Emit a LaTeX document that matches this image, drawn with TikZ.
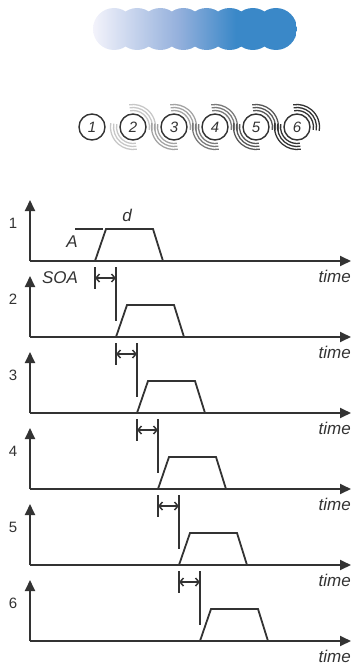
\documentclass[tikz,border=0pt]{standalone}
\usepackage{fontspec}
\setmainfont{Liberation Sans}
\usetikzlibrary{arrows.meta}
\definecolor{ink}{HTML}{333333}
\definecolor{bluel}{HTML}{F3F3FB}
\definecolor{bluem}{HTML}{94B0DC}
\definecolor{blued}{HTML}{3A88C8}
\pgfdeclarehorizontalshading{barshade}{100bp}{color(0bp)=(bluel); color(25bp)=(bluel); color(46bp)=(bluem); color(60bp)=(blued); color(100bp)=(blued)}
\begin{document}
\begin{tikzpicture}[x=1pt,y=-1pt,
  axis/.style={ink, line width=1.8pt, -{Triangle[length=11pt,width=10pt]}},
  pulse/.style={ink, line width=1.8pt, line join=miter},
  bar/.style={ink, line width=1.6pt},
  soa/.style={ink, line width=1.5pt, {Straight Barb[length=3.5pt,width=8pt]}-{Straight Barb[length=3.5pt,width=8pt]}},
  lbl/.style={font=\fontsize{15}{15}\selectfont, text=ink, inner sep=0pt},
  tlbl/.style={font=\itshape\fontsize{17}{17}\selectfont, text=ink, inner sep=0pt},
  ring/.style={circle, draw=ink, line width=1.4pt, minimum size=26pt, inner sep=0pt, font=\itshape\fontsize{15}{15}\selectfont, text=ink},
  wave/.style={line width=1.3pt}
]
\useasboundingbox (0,0) rectangle (354,666);

% scalloped gradient bar
\begin{scope}
  \clip \foreach \i in {0,...,7} { (114+23.14*\i,29) circle[radius=21] };
  \shade[shading=barshade] (93,8) rectangle (297,50);
\end{scope}

% numbered rings with spreading arcs
\foreach \i in {1,...,6} {
  \node[ring] (c\i) at (92+41*\i-41,127) {\i};
}
\foreach \i/\g in {2/22,3/36,4/52,5/66,6/80} {
  \foreach \r in {16.5,19.5,22.5} {
    \draw[wave, draw=black!\g] (c\i.center) ++(10:\r) arc[start angle=10, end angle=-100, radius=\r];
    \draw[wave, draw=black!\g] (c\i.center) ++(-170:\r) arc[start angle=-170, end angle=-280, radius=\r];
  }
}

% six timing panels
\foreach \k in {1,...,6} {
  \pgfmathsetmacro{\b}{261+76*(\k-1)}
  \pgfmathsetmacro{\s}{95+21*(\k-1)}
  \coordinate (o\k) at (30,\b);
  \coordinate (yt\k) at (30,\b-61);
  \coordinate (xt\k) at (351,\b);
  \coordinate (p\k a) at (\s,\b);
  \coordinate (p\k b) at (\s+11,\b-32);
  \coordinate (p\k c) at (\s+58,\b-32);
  \coordinate (p\k d) at (\s+68,\b);
  \draw[axis] (o\k) -- (yt\k);
  \draw[axis] (o\k) -- (xt\k);
  \draw[pulse] (p\k a) -- (p\k b) -- (p\k c) -- (p\k d);
  \node[lbl] (n\k) at (13,\b-38) {\k};
  \node[tlbl, anchor=east] (t\k) at (351,\b+15) {time};
}

% SOA markers between consecutive panels
\foreach \k in {1,...,5} {
  \pgfmathsetmacro{\b}{261+76*(\k-1)}
  \pgfmathsetmacro{\s}{95+21*(\k-1)}
  \coordinate (sa\k) at (\s,\b+6);
  \coordinate (sb\k) at (\s,\b+28);
  \coordinate (la\k) at (\s+21,\b+6);
  \coordinate (lb\k) at (\s+21,\b+76-16);
  \coordinate (ma\k) at (\s,\b+17);
  \coordinate (mb\k) at (\s+21,\b+17);
  \draw[bar] (sa\k) -- (sb\k);
  \draw[bar] (la\k) -- (lb\k);
  \draw[soa] (ma\k) -- (mb\k);
}

% annotations of the first panel
\coordinate (aa) at (75,229);
\coordinate (ab) at (103,229);
\draw[pulse] (aa) -- (ab);
\node[tlbl] (lA) at (72,242) {A};
\node[tlbl] (ld) at (127,215) {d};
\node[tlbl] (lsoa) at (60,278) {SOA};
\end{tikzpicture}
\end{document}
